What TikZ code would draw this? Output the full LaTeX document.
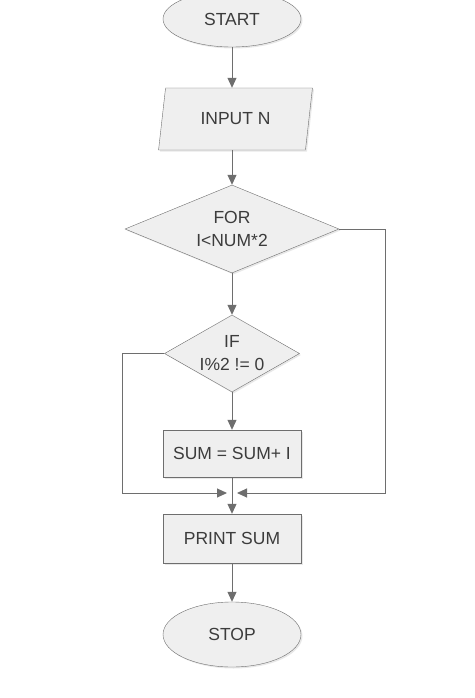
\documentclass[tikz,border=0pt]{standalone}
\usepackage{fontspec}
\setmainfont{Liberation Sans}
\usetikzlibrary{shapes.geometric,arrows.meta,shadows}
\definecolor{lineg}{HTML}{6E6E6E}
\definecolor{fillg}{HTML}{EFEFEF}
\definecolor{textg}{HTML}{3C3C3C}
\begin{document}
\begin{tikzpicture}[
  x=1pt, y=-1pt,
  font=\fontsize{17.5}{23}\selectfont, text=textg,
  every node/.style={inner sep=0pt, align=center},
  shade/.style={drop shadow={opacity=0.18, shadow xshift=1.5pt, shadow yshift=-1.5pt}},
  term/.style={ellipse, draw=lineg, fill=fillg, shade, minimum width=138pt},
  io/.style={trapezium, trapezium left angle=74, trapezium right angle=106,
    trapezium stretches=true, draw=lineg, fill=fillg, shade, minimum width=155pt, minimum height=62pt},
  dec/.style={diamond, draw=lineg, fill=fillg, shade},
  proc/.style={rectangle, draw=lineg, fill=fillg, shade, minimum width=138pt},
  flow/.style={draw=lineg, line width=1pt, -{Triangle[length=10pt,width=9pt]}}
]
\useasboundingbox (0,0) rectangle (474,698);
\node[term, minimum height=56pt] (start) at (232,19) {START};
\node[io] (input) at (235.5,119) {INPUT N};
\node[dec, shape aspect=2.4, minimum width=214pt, minimum height=88pt] (for) at (232,229) {FOR\\I<NUM*2};
\node[dec, shape aspect=1.75, minimum width=135pt, minimum height=77pt] (if) at (232,353.5) {IF\\I\%2 != 0};
\node[proc, minimum height=47pt] (sum) at (232,453.5) {SUM = SUM+ I};
\node[proc, minimum height=49pt] (print) at (232,538.5) {PRINT SUM};
\node[term, minimum height=65pt] (stop) at (232,634.5) {STOP};
% loop exits meet above PRINT SUM
\coordinate (rcorner) at (385,493);
\coordinate (lcorner) at (122,493);
\coordinate (mergeR) at (237,493);
\coordinate (mergeL) at (227,493);
\draw[flow] (start) -- (start |- input.north);
\draw[flow] (input.south -| for.north) -- (for);
\draw[flow] (for) -- (if);
\draw[flow] (if) -- (sum);
\draw[flow] (sum) -- (print);
\draw[flow] (print) -- (stop);
\draw[flow] (for.east) -| (rcorner) -- (mergeR);
\draw[flow] (if.west) -| (lcorner) -- (mergeL);
\end{tikzpicture}
\end{document}
